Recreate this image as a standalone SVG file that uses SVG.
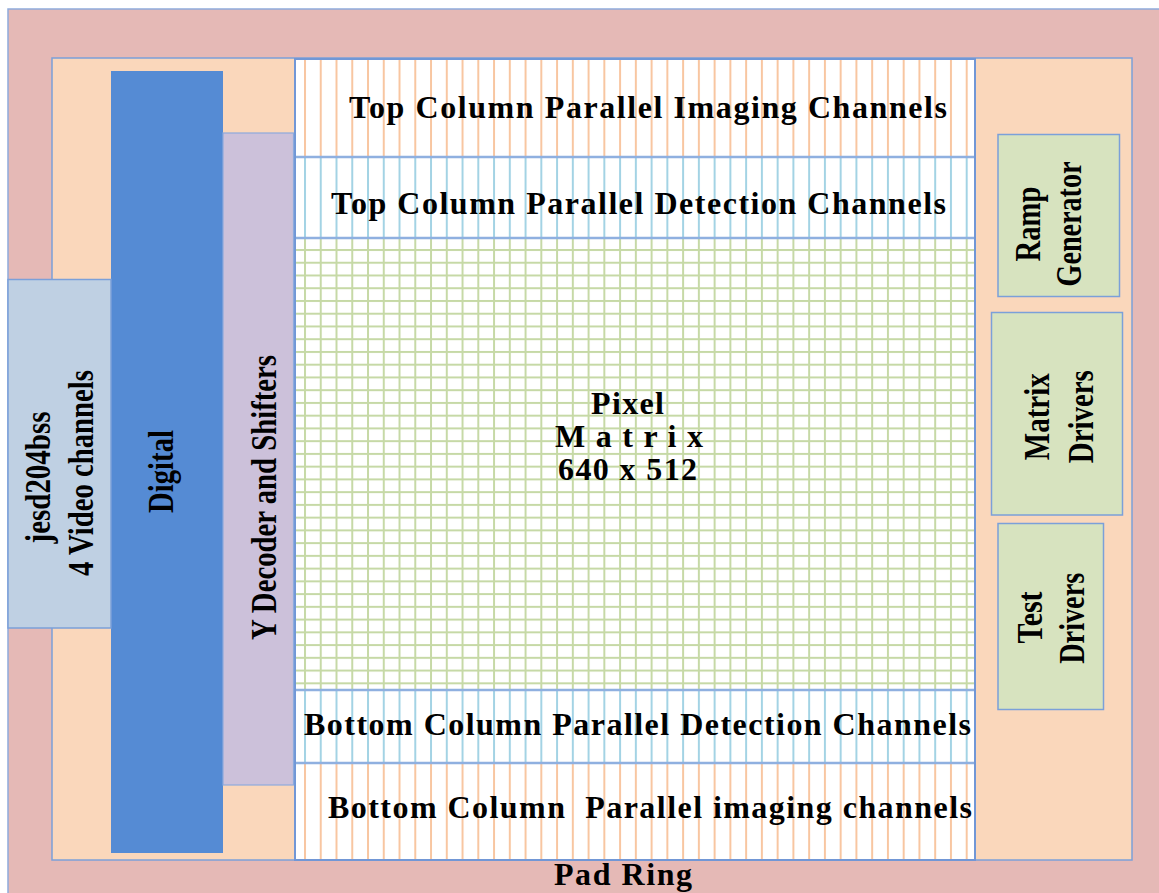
<svg xmlns="http://www.w3.org/2000/svg" width="1159" height="893" viewBox="0 0 1159 893">
<style>
.t{font-family:"Liberation Serif","Times New Roman",serif;font-weight:bold;fill:#000;}
.h{font-size:32px;}
.v{font-size:35px;}
.bd{stroke:#7ba0d9;stroke-width:1.5;}
.div{stroke:#8fb0e0;stroke-width:2.5;}
</style>
<defs>
<pattern id="pOrange" x="304" y="0" width="15.755" height="20" patternUnits="userSpaceOnUse">
<rect x="0" y="0" width="2" height="20" fill="#f8c6a1"/>
</pattern>
<pattern id="pBlue" x="304" y="0" width="15.755" height="20" patternUnits="userSpaceOnUse">
<rect x="0" y="0" width="2" height="20" fill="#a3d3e4"/>
</pattern>
<pattern id="pGrid" x="304" y="249" width="15.755" height="12.745" patternUnits="userSpaceOnUse">
<rect x="0" y="0" width="2" height="12.745" fill="#c6d9a6"/>
<rect x="0" y="0" width="15.755" height="2" fill="#c6d9a6"/>
</pattern>
</defs>

<g id="pad-ring">
<rect x="8" y="9" width="1160" height="895" fill="#e5b9b6" stroke="#8eaadc" stroke-width="1.5"/>
<text class="t h" x="554" y="885" textLength="138" lengthAdjust="spacing">Pad Ring</text>
</g>

<g id="core">
<rect x="52" y="58" width="1080" height="802" fill="#fad7bb" class="bd"/>
</g>

<g id="column-area">
<rect x="295" y="59" width="680" height="801" fill="#ffffff"/>
<rect x="295" y="59" width="680" height="98" fill="url(#pOrange)"/>
<rect x="295" y="157" width="680" height="81" fill="url(#pBlue)"/>
<rect x="295" y="238" width="680" height="452" fill="url(#pGrid)"/>
<rect x="295" y="690" width="680" height="73" fill="url(#pBlue)"/>
<rect x="295" y="763" width="680" height="97" fill="url(#pOrange)"/>
<line class="div" x1="295" y1="157" x2="975" y2="157"/>
<line class="div" x1="295" y1="238" x2="975" y2="238"/>
<line class="div" x1="295" y1="690" x2="975" y2="690"/>
<line class="div" x1="295" y1="763" x2="975" y2="763"/>
<rect x="295" y="59" width="680" height="801" fill="none" stroke="#7197d6" stroke-width="2"/>
</g>

<g id="top-imaging">
<text class="t h" x="349" y="118" textLength="598" lengthAdjust="spacing">Top Column Parallel Imaging Channels</text>
</g>
<g id="top-detection">
<text class="t h" x="331" y="214" textLength="615" lengthAdjust="spacing">Top Column Parallel Detection Channels</text>
</g>
<g id="pixel-matrix">
<text class="t h" x="591" y="414" textLength="73" lengthAdjust="spacing">Pixel</text>
<text class="t h" x="555" y="447" textLength="148" lengthAdjust="spacing">M a t r i x</text>
<text class="t h" x="558" y="480" textLength="139" lengthAdjust="spacing">640 x 512</text>
</g>
<g id="bottom-detection">
<text class="t h" x="304" y="735" textLength="667" lengthAdjust="spacing">Bottom Column Parallel Detection Channels</text>
</g>
<g id="bottom-imaging">
<text class="t h" x="328" y="818" textLength="644" lengthAdjust="spacing" xml:space="preserve">Bottom Column  Parallel imaging channels</text>
</g>

<g id="digital">
<rect x="111" y="71" width="112" height="782" fill="#558bd4"/>
<text class="t v" transform="translate(173,471.5) rotate(-90)" x="-41.5" y="0" textLength="83" lengthAdjust="spacingAndGlyphs">Digital</text>
</g>

<g id="y-decoder">
<rect x="223" y="133" width="70.5" height="652" fill="#ccc1da" stroke="#8eaadc" stroke-width="1.2"/>
<text class="t v" transform="translate(276,497.5) rotate(-90)" x="-142.5" y="0" textLength="285" lengthAdjust="spacingAndGlyphs">Y Decoder and Shifters</text>
</g>

<g id="jesd">
<rect x="8" y="279.5" width="103" height="348.5" fill="#bfd0e3" class="bd"/>
<text class="t v" transform="translate(50,477.5) rotate(-90)" x="-66" y="0" textLength="132" lengthAdjust="spacingAndGlyphs">jesd204bss</text>
<text class="t v" transform="translate(93,473) rotate(-90)" x="-103" y="0" textLength="206" lengthAdjust="spacingAndGlyphs">4 Video channels</text>
</g>

<g id="ramp-generator">
<rect x="998" y="134.5" width="121.5" height="162" fill="#d7e3bf" class="bd"/>
<text class="t v" transform="translate(1040,224) rotate(-90)" x="-37.5" y="0" textLength="75" lengthAdjust="spacingAndGlyphs">Ramp</text>
<text class="t v" transform="translate(1081,224) rotate(-90)" x="-62.5" y="0" textLength="125" lengthAdjust="spacingAndGlyphs">Generator</text>
</g>

<g id="matrix-drivers">
<rect x="991.5" y="312.5" width="131" height="202.5" fill="#d7e3bf" class="bd"/>
<text class="t v" transform="translate(1049,416.7) rotate(-90)" x="-43.5" y="0" textLength="87" lengthAdjust="spacingAndGlyphs">Matrix</text>
<text class="t v" transform="translate(1093,416.7) rotate(-90)" x="-46.5" y="0" textLength="93" lengthAdjust="spacingAndGlyphs">Drivers</text>
</g>

<g id="test-drivers">
<rect x="998" y="523.5" width="105.5" height="186" fill="#d7e3bf" class="bd"/>
<text class="t v" transform="translate(1042,617.5) rotate(-90)" x="-26" y="0" textLength="52" lengthAdjust="spacingAndGlyphs">Test</text>
<text class="t v" transform="translate(1084,618.3) rotate(-90)" x="-45.5" y="0" textLength="91" lengthAdjust="spacingAndGlyphs">Drivers</text>
</g>

<g id="connectors"/>
</svg>
